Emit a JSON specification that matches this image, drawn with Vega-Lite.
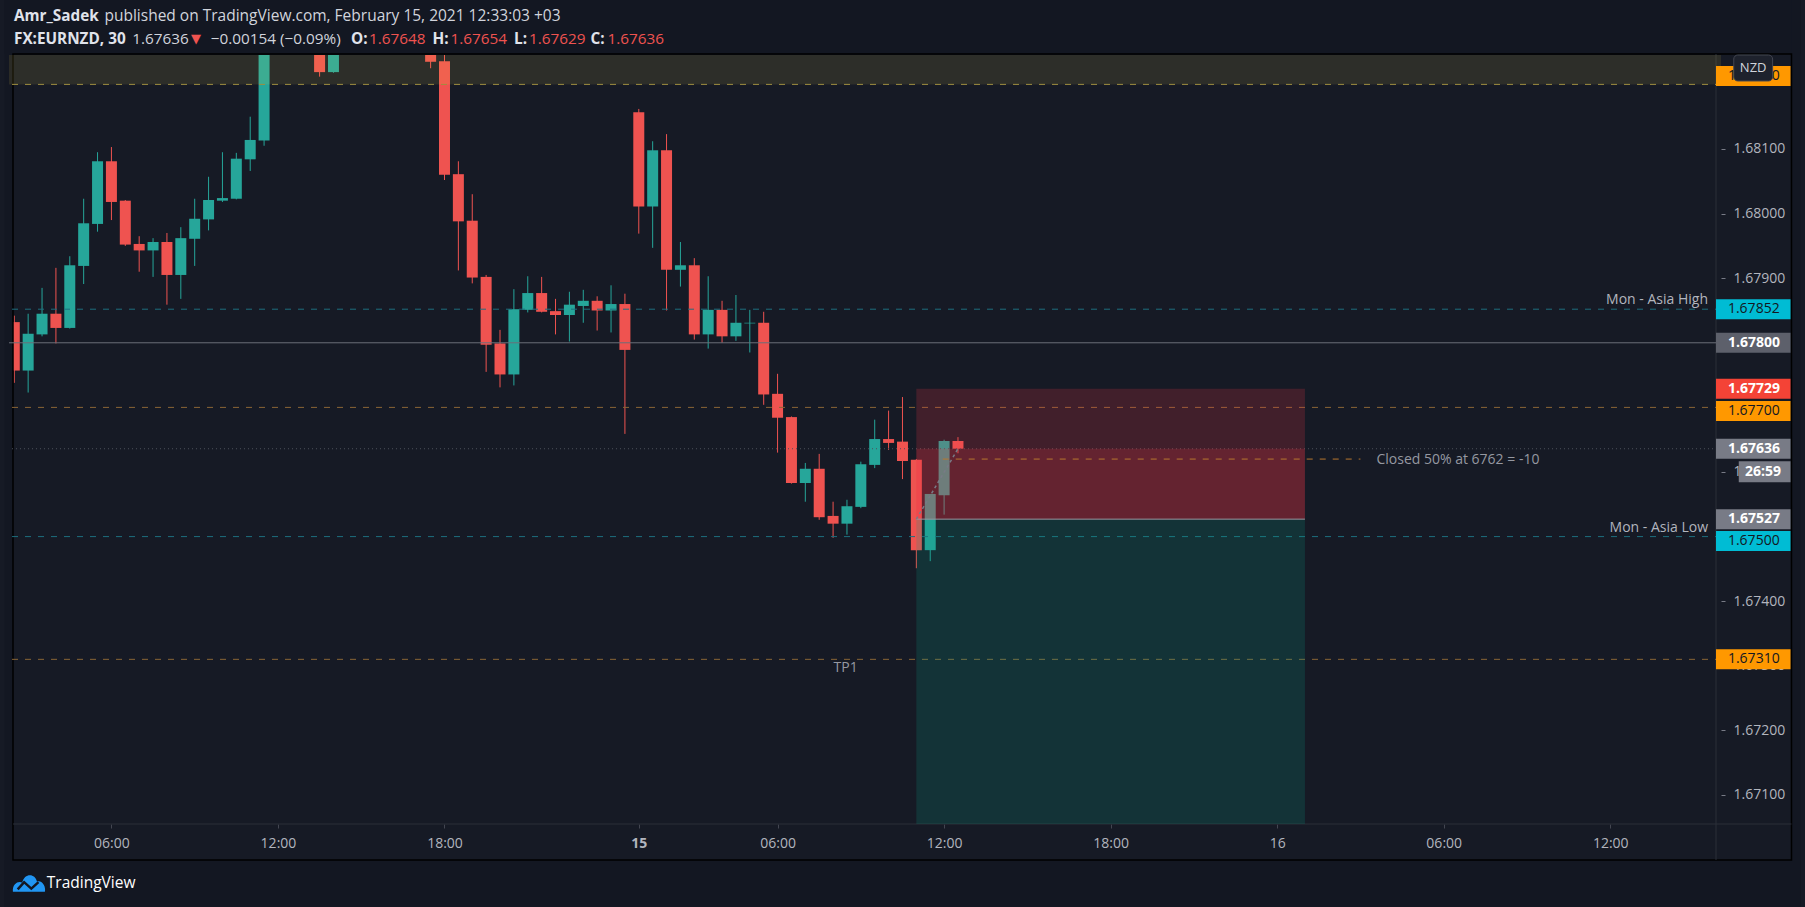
{
  "$schema": "https://vega.github.io/schema/vega-lite/v6.json",
  "width": 1712,
  "height": 769,
  "autosize": {"type": "none"},
  "padding": {"left": 9, "top": 55, "right": 84, "bottom": 83},
  "background": "#161a25",
  "config": {"view": {"stroke": null}, "font": "Open Sans"},
  "resolve": {"axis": {"x": "independent", "y": "independent"}},
  "datasets": {
    "bars": [
      {"i":-7,"O":1.67832,"H":1.67842,"L":1.67738,"C":1.67757},
      {"i":-6,"O":1.67757,"H":1.67845,"L":1.67723,"C":1.67814},
      {"i":-5,"O":1.67813,"H":1.67885,"L":1.67810,"C":1.67845},
      {"i":-4,"O":1.67845,"H":1.67916,"L":1.67799,"C":1.67823},
      {"i":-3,"O":1.67823,"H":1.67934,"L":1.67822,"C":1.67920},
      {"i":-2,"O":1.67919,"H":1.68023,"L":1.67891,"C":1.67985},
      {"i":-1,"O":1.67984,"H":1.68095,"L":1.67972,"C":1.68081},
      {"i":0,"O":1.68081,"H":1.68103,"L":1.67990,"C":1.68018},
      {"i":1,"O":1.68020,"H":1.68021,"L":1.67950,"C":1.67952},
      {"i":2,"O":1.67953,"H":1.67965,"L":1.67910,"C":1.67943},
      {"i":3,"O":1.67943,"H":1.67962,"L":1.67902,"C":1.67956},
      {"i":4,"O":1.67956,"H":1.67970,"L":1.67859,"C":1.67905},
      {"i":5,"O":1.67905,"H":1.67979,"L":1.67868,"C":1.67962},
      {"i":6,"O":1.67961,"H":1.68023,"L":1.67919,"C":1.67992},
      {"i":7,"O":1.67991,"H":1.68057,"L":1.67974,"C":1.68021},
      {"i":8,"O":1.68020,"H":1.68095,"L":1.68018,"C":1.68024},
      {"i":9,"O":1.68023,"H":1.68094,"L":1.68022,"C":1.68085},
      {"i":10,"O":1.68084,"H":1.68150,"L":1.68066,"C":1.68114},
      {"i":11,"O":1.68113,"H":1.68275,"L":1.68105,"C":1.68262},
      {"i":12,"O":1.68262,"H":1.68310,"L":1.68252,"C":1.68290},
      {"i":13,"O":1.68290,"H":1.68340,"L":1.68275,"C":1.68310},
      {"i":14,"O":1.68310,"H":1.68330,"L":1.68260,"C":1.68280},
      {"i":15,"O":1.68280,"H":1.68300,"L":1.68212,"C":1.68219},
      {"i":16,"O":1.68219,"H":1.68290,"L":1.68218,"C":1.68270},
      {"i":17,"O":1.68270,"H":1.68350,"L":1.68255,"C":1.68320},
      {"i":18,"O":1.68320,"H":1.68340,"L":1.68270,"C":1.68290},
      {"i":19,"O":1.68290,"H":1.68310,"L":1.68250,"C":1.68260},
      {"i":20,"O":1.68260,"H":1.68320,"L":1.68252,"C":1.68300},
      {"i":21,"O":1.68300,"H":1.68310,"L":1.68260,"C":1.68270},
      {"i":22,"O":1.68270,"H":1.68290,"L":1.68258,"C":1.68265},
      {"i":23,"O":1.68265,"H":1.68280,"L":1.68225,"C":1.68235},
      {"i":24,"O":1.68236,"H":1.68260,"L":1.68052,"C":1.68060},
      {"i":25,"O":1.68061,"H":1.68081,"L":1.67912,"C":1.67988},
      {"i":26,"O":1.67989,"H":1.68030,"L":1.67892,"C":1.67901},
      {"i":27,"O":1.67902,"H":1.67905,"L":1.67755,"C":1.67797},
      {"i":28,"O":1.67799,"H":1.67820,"L":1.67731,"C":1.67751},
      {"i":29,"O":1.67751,"H":1.67883,"L":1.67734,"C":1.67852},
      {"i":30,"O":1.67851,"H":1.67903,"L":1.67847,"C":1.67877},
      {"i":31,"O":1.67877,"H":1.67902,"L":1.67847,"C":1.67848},
      {"i":32,"O":1.67849,"H":1.67868,"L":1.67813,"C":1.67843},
      {"i":33,"O":1.67843,"H":1.67879,"L":1.67802,"C":1.67859},
      {"i":34,"O":1.67857,"H":1.67882,"L":1.67831,"C":1.67865},
      {"i":35,"O":1.67865,"H":1.67872,"L":1.67819,"C":1.67850},
      {"i":36,"O":1.67850,"H":1.67889,"L":1.67816,"C":1.67860},
      {"i":37,"O":1.67860,"H":1.67876,"L":1.67659,"C":1.67789},
      {"i":38,"O":1.68157,"H":1.68162,"L":1.67969,"C":1.68011},
      {"i":39,"O":1.68011,"H":1.68112,"L":1.67947,"C":1.68098},
      {"i":40,"O":1.68098,"H":1.68123,"L":1.67850,"C":1.67913},
      {"i":41,"O":1.67913,"H":1.67956,"L":1.67887,"C":1.67920},
      {"i":42,"O":1.67920,"H":1.67931,"L":1.67805,"C":1.67813},
      {"i":43,"O":1.67813,"H":1.67903,"L":1.67791,"C":1.67851},
      {"i":44,"O":1.67851,"H":1.67865,"L":1.67800,"C":1.67810},
      {"i":45,"O":1.67810,"H":1.67874,"L":1.67803,"C":1.67831},
      {"i":46,"O":1.67830,"H":1.67851,"L":1.67785,"C":1.67831},
      {"i":47,"O":1.67831,"H":1.67848,"L":1.67704,"C":1.67720},
      {"i":48,"O":1.67721,"H":1.67752,"L":1.67630,"C":1.67684},
      {"i":49,"O":1.67685,"H":1.67686,"L":1.67582,"C":1.67583},
      {"i":50,"O":1.67583,"H":1.67614,"L":1.67554,"C":1.67605},
      {"i":51,"O":1.67605,"H":1.67628,"L":1.67526,"C":1.67530},
      {"i":52,"O":1.67532,"H":1.67554,"L":1.67498,"C":1.67520},
      {"i":53,"O":1.67520,"H":1.67557,"L":1.67503,"C":1.67547},
      {"i":54,"O":1.67546,"H":1.67616,"L":1.67544,"C":1.67612},
      {"i":55,"O":1.67611,"H":1.67681,"L":1.67606,"C":1.67651},
      {"i":56,"O":1.67651,"H":1.67695,"L":1.67634,"C":1.67645},
      {"i":57,"O":1.67647,"H":1.67716,"L":1.67589,"C":1.67617},
      {"i":58,"O":1.67619,"H":1.67620,"L":1.67451,"C":1.67479},
      {"i":59,"O":1.67479,"H":1.67566,"L":1.67462,"C":1.67566},
      {"i":60,"O":1.67564,"H":1.67650,"L":1.67534,"C":1.67648},
      {"i":61,"O":1.67648,"H":1.67654,"L":1.67629,"C":1.67636}
    ],
    "levels": [
      {"price":1.682,"name":"zone"},
      {"price":1.67852,"name":"Mon - Asia High"},
      {"price":1.678,"name":"round"},
      {"price":1.677,"name":"level"},
      {"price":1.67636,"name":"last"},
      {"price":1.675,"name":"Mon - Asia Low"},
      {"price":1.6731,"name":"TP1"}
    ],
    "labels": [
      {"price":1.682,"kind":"orange"},
      {"price":1.67852,"kind":"cyan"},
      {"price":1.678,"kind":"darkgray"},
      {"price":1.67729,"kind":"red"},
      {"price":1.677,"kind":"orange"},
      {"price":1.67636,"kind":"gray"},
      {"price":1.67527,"kind":"gray"},
      {"price":1.675,"kind":"cyan"},
      {"price":1.6731,"kind":"orange"}
    ],
    "position": [
      {"entryI":58,"endI":86,"lastI":61,"entry":1.67527,"stop":1.67729,"last":1.67636,"target":1.6695}
    ],
    "closed": [
      {"i1":59.9,"i2":90,"price":1.6762,"text":"Closed 50% at 6762 = -10"}
    ]
  },
  "layer": [
    {
      "data": {"name": "bars"},
      "mark": {"type": "rule", "clip": true, "strokeWidth": 1},
      "encoding": {
        "x": {
          "field": "i", "type": "quantitative",
          "scale": {"domain": [-7.02, 115.62], "nice": false, "zero": false},
          "axis": {
            "values": [0, 12, 24, 38, 48, 60, 72, 84, 96, 108],
            "labelExpr": "['06:00','12:00','18:00','15','06:00','12:00','18:00','16','06:00','12:00'][indexof([0,12,24,38,48,60,72,84,96,108], datum.value)]",
            "title": null, "domain": false, "grid": false,
            "tickSize": 4, "tickColor": "#434651",
            "labelColor": "#b2b5be", "labelFontSize": 14, "labelFont": "Open Sans",
            "labelPadding": 8, "labelFlush": false, "labelOverlap": false,
            "labelFontWeight": {"condition": {"test": "datum.value == 38", "value": "bold"}, "value": "normal"}
          }
        },
        "y": {
          "field": "L", "type": "quantitative",
          "scale": {"domain": [1.670551, 1.682455], "nice": false, "zero": false},
          "axis": {
            "orient": "right",
            "values": [1.671, 1.672, 1.673, 1.674, 1.676, 1.679, 1.68, 1.681],
            "format": ".5f", "title": null, "domain": false, "grid": false,
            "tickSize": 4, "tickColor": "#787b86",
            "labelColor": "#b2b5be", "labelFontSize": 14, "labelFont": "Open Sans",
            "labelPadding": 8, "labelFlush": false, "labelOverlap": false
          }
        },
        "y2": {"field": "H"},
        "color": {"condition": {"test": "datum.C >= datum.O", "value": "#26a69a"}, "value": "#ef5350"}
      }
    },
    {
      "data": {"name": "bars"},
      "mark": {"type": "bar", "clip": true, "size": 11},
      "encoding": {
        "x": {"field": "i", "type": "quantitative", "axis": null},
        "y": {"field": "O", "type": "quantitative", "axis": null},
        "y2": {"field": "C"},
        "color": {"condition": {"test": "datum.C >= datum.O", "value": "#26a69a"}, "value": "#ef5350"}
      }
    },
    {
      "data": {"values": [{}]},
      "mark": {"type": "rect", "color": "#131722"},
      "encoding": {
        "x": {"datum": -7.7, "type": "quantitative", "axis": null},
        "x2": {"datum": 121.7},
        "y": {"datum": 1.68332, "type": "quantitative", "axis": null},
        "y2": {"datum": 1.682471}
      }
    },
    {
      "data": {"values": [{}]},
      "mark": {"type": "rect", "color": "#131722"},
      "encoding": {
        "x": {"datum": -7.7, "type": "quantitative", "axis": null},
        "x2": {"datum": -7.092},
        "y": {"datum": 1.68332, "type": "quantitative", "axis": null},
        "y2": {"datum": 1.66925}
      }
    },
    {
      "data": {"values": [{}]},
      "mark": {"type": "rect", "color": "#131722"},
      "encoding": {
        "x": {"datum": 121.06, "type": "quantitative", "axis": null},
        "x2": {"datum": 121.7},
        "y": {"datum": 1.68332, "type": "quantitative", "axis": null},
        "y2": {"datum": 1.66925}
      }
    },
    {
      "data": {"values": [{}]},
      "mark": {"type": "rect", "color": "#131722"},
      "encoding": {
        "x": {"datum": -7.7, "type": "quantitative", "axis": null},
        "x2": {"datum": 121.7},
        "y": {"datum": 1.669994, "type": "quantitative", "axis": null},
        "y2": {"datum": 1.66925}
      }
    },
    {
      "data": {"values": [{}]},
      "mark": {"type": "rect", "fillOpacity": 0, "stroke": "#000000", "strokeWidth": 1.5},
      "encoding": {
        "x": {"datum": -7.092, "type": "quantitative", "axis": null},
        "x2": {"datum": 121.06},
        "y": {"datum": 1.682471, "type": "quantitative", "axis": null},
        "y2": {"datum": 1.669994}
      }
    },
    {
      "data": {"values": [{}]},
      "mark": {"type": "rule", "color": "#2a2e39", "strokeWidth": 1},
      "encoding": {
        "x": {"datum": 115.62, "type": "quantitative", "axis": null},
        "y": {"datum": 1.682471, "type": "quantitative", "axis": null},
        "y2": {"datum": 1.669994}
      }
    },
    {
      "data": {"values": [{}]},
      "mark": {"type": "rule", "color": "#2a2e39", "strokeWidth": 1},
      "encoding": {
        "x": {"datum": -7.092, "type": "quantitative", "axis": null},
        "x2": {"datum": 121.06},
        "y": {"datum": 1.670551, "type": "quantitative", "axis": null}
      }
    },
    {
      "data": {"name": "levels"},
      "transform": [{"filter": "datum.name == 'zone'"}],
      "mark": {"type": "rule", "color": "#9a8a3e", "strokeDash": [6, 7], "strokeWidth": 1},
      "encoding": {"y": {"field": "price", "type": "quantitative", "axis": null}}
    },
    {
      "data": {"name": "levels"},
      "transform": [{"filter": "datum.name == 'zone'"}],
      "mark": {"type": "rect", "clip": true, "color": "#ffe14d", "opacity": 0.1},
      "encoding": {
        "x": {"datum": -8, "type": "quantitative", "axis": null},
        "x2": {"datum": 125},
        "y": {"field": "price", "type": "quantitative", "axis": null},
        "y2": {"datum": 1.6835}
      }
    },
    {
      "data": {"name": "levels"},
      "transform": [{"filter": "datum.name == 'Mon - Asia High' || datum.name == 'Mon - Asia Low'"}],
      "mark": {"type": "rule", "color": "#1d6f7e", "strokeDash": [6, 7], "strokeWidth": 1},
      "encoding": {"y": {"field": "price", "type": "quantitative", "axis": null}}
    },
    {
      "data": {"name": "levels"},
      "transform": [{"filter": "datum.name == 'round'"}],
      "mark": {"type": "rule", "color": "#6b6e78", "strokeWidth": 1},
      "encoding": {"y": {"field": "price", "type": "quantitative", "axis": null}}
    },
    {
      "data": {"name": "levels"},
      "transform": [{"filter": "datum.name == 'level' || datum.name == 'TP1'"}],
      "mark": {"type": "rule", "color": "#8a6535", "strokeDash": [6, 7], "strokeWidth": 1},
      "encoding": {"y": {"field": "price", "type": "quantitative", "axis": null}}
    },
    {
      "data": {"name": "levels"},
      "transform": [{"filter": "datum.name == 'last'"}],
      "mark": {"type": "rule", "color": "#4c505b", "strokeDash": [1, 3], "strokeWidth": 1},
      "encoding": {"y": {"field": "price", "type": "quantitative", "axis": null}}
    },
    {
      "data": {"name": "position"},
      "mark": {"type": "rect", "clip": true, "color": "#f23645", "opacity": 0.2},
      "encoding": {
        "x": {"field": "entryI", "type": "quantitative", "axis": null},
        "x2": {"field": "endI"},
        "y": {"field": "stop", "type": "quantitative", "axis": null},
        "y2": {"field": "entry"}
      }
    },
    {
      "data": {"name": "position"},
      "mark": {"type": "rect", "clip": true, "color": "#f23645", "opacity": 0.2},
      "encoding": {
        "x": {"field": "entryI", "type": "quantitative", "axis": null},
        "x2": {"field": "endI"},
        "y": {"field": "last", "type": "quantitative", "axis": null},
        "y2": {"field": "entry"}
      }
    },
    {
      "data": {"name": "position"},
      "mark": {"type": "rect", "clip": true, "color": "#089981", "opacity": 0.2},
      "encoding": {
        "x": {"field": "entryI", "type": "quantitative", "axis": null},
        "x2": {"field": "endI"},
        "y": {"field": "entry", "type": "quantitative", "axis": null},
        "y2": {"field": "target"}
      }
    },
    {
      "data": {"name": "position"},
      "mark": {"type": "rule", "color": "#9598a1", "strokeWidth": 1},
      "encoding": {
        "x": {"field": "entryI", "type": "quantitative", "axis": null},
        "x2": {"field": "endI"},
        "y": {"field": "entry", "type": "quantitative", "axis": null}
      }
    },
    {
      "data": {"name": "position"},
      "mark": {"type": "rule", "color": "#787b86", "strokeWidth": 1.5, "strokeDash": [3, 3]},
      "encoding": {
        "x": {"field": "entryI", "type": "quantitative", "axis": null},
        "x2": {"field": "lastI"},
        "y": {"field": "entry", "type": "quantitative", "axis": null},
        "y2": {"field": "last"}
      }
    },
    {
      "data": {"name": "closed"},
      "mark": {"type": "rule", "color": "#b8782f", "strokeWidth": 1, "strokeDash": [6, 7]},
      "encoding": {
        "x": {"field": "i1", "type": "quantitative", "axis": null},
        "x2": {"field": "i2"},
        "y": {"field": "price", "type": "quantitative", "axis": null}
      }
    },
    {
      "data": {"name": "closed"},
      "mark": {"type": "text", "align": "left", "baseline": "middle", "dx": 16, "dy": 1, "fontSize": 14, "color": "#9598a1"},
      "encoding": {
        "x": {"field": "i2", "type": "quantitative", "axis": null},
        "y": {"field": "price", "type": "quantitative", "axis": null},
        "text": {"field": "text"}
      }
    },
    {
      "data": {"name": "levels"},
      "transform": [{"filter": "datum.name == 'Mon - Asia High' || datum.name == 'Mon - Asia Low'"}],
      "mark": {"type": "text", "align": "right", "baseline": "bottom", "dx": -8, "dy": -2, "fontSize": 14, "color": "#b2b5be"},
      "encoding": {
        "x": {"datum": 115.62, "type": "quantitative", "axis": null},
        "y": {"field": "price", "type": "quantitative", "axis": null},
        "text": {"field": "name"}
      }
    },
    {
      "data": {"name": "levels"},
      "transform": [{"filter": "datum.name == 'TP1'"}],
      "mark": {"type": "text", "align": "center", "baseline": "middle", "dy": 9, "fontSize": 14, "color": "#9598a1"},
      "encoding": {
        "x": {"datum": 52.9, "type": "quantitative", "axis": null},
        "y": {"field": "price", "type": "quantitative", "axis": null},
        "text": {"field": "name"}
      }
    },
    {
      "data": {"name": "labels"},
      "transform": [{"filter": "datum.price != 1.677 && datum.price != 1.675 && datum.price != 1.682"}],
      "mark": {"type": "rect", "yOffset": -10, "y2Offset": 10},
      "encoding": {
        "x": {"datum": 115.62, "type": "quantitative", "axis": null},
        "x2": {"datum": 120.99},
        "y": {"field": "price", "type": "quantitative", "axis": null},
        "y2": {"field": "price"},
        "color": {"field": "kind", "type": "nominal", "legend": null, "scale": {"domain": ["orange", "cyan", "darkgray", "red", "gray"], "range": ["#ff9800", "#00bcd4", "#5d606b", "#f44336", "#787b86"]}}
      }
    },
    {
      "data": {"name": "labels"},
      "transform": [{"filter": "datum.price == 1.682"}],
      "mark": {"type": "rect", "yOffset": -18.4, "y2Offset": 1.6},
      "encoding": {
        "x": {"datum": 115.62, "type": "quantitative", "axis": null},
        "x2": {"datum": 120.99},
        "y": {"field": "price", "type": "quantitative", "axis": null},
        "y2": {"field": "price"},
        "color": {"field": "kind", "type": "nominal", "legend": null}
      }
    },
    {
      "data": {"name": "labels"},
      "transform": [{"filter": "datum.price == 1.677"}],
      "mark": {"type": "rect", "yOffset": -6.4, "y2Offset": 13.6},
      "encoding": {
        "x": {"datum": 115.62, "type": "quantitative", "axis": null},
        "x2": {"datum": 120.99},
        "y": {"field": "price", "type": "quantitative", "axis": null},
        "y2": {"field": "price"},
        "color": {"field": "kind", "type": "nominal", "legend": null}
      }
    },
    {
      "data": {"name": "labels"},
      "transform": [{"filter": "datum.price == 1.675"}],
      "mark": {"type": "rect", "yOffset": -5.6, "y2Offset": 14.4},
      "encoding": {
        "x": {"datum": 115.62, "type": "quantitative", "axis": null},
        "x2": {"datum": 120.99},
        "y": {"field": "price", "type": "quantitative", "axis": null},
        "y2": {"field": "price"},
        "color": {"field": "kind", "type": "nominal", "legend": null}
      }
    },
    {
      "data": {"name": "labels"},
      "transform": [{"filter": "(datum.kind == 'orange' || datum.kind == 'cyan') && datum.price != 1.677 && datum.price != 1.675 && datum.price != 1.682"}],
      "mark": {"type": "text", "align": "left", "baseline": "middle", "fontSize": 14, "color": "#131722"},
      "encoding": {
        "x": {"datum": 116.48, "type": "quantitative", "axis": null},
        "y": {"field": "price", "type": "quantitative", "axis": null},
        "text": {"field": "price", "format": ".5f"}
      }
    },
    {
      "data": {"name": "labels"},
      "transform": [{"filter": "datum.price == 1.682"}],
      "mark": {"type": "text", "align": "left", "baseline": "middle", "dy": -8.4, "fontSize": 14, "color": "#131722"},
      "encoding": {
        "x": {"datum": 116.48, "type": "quantitative", "axis": null},
        "y": {"field": "price", "type": "quantitative", "axis": null},
        "text": {"field": "price", "format": ".5f"}
      }
    },
    {
      "data": {"name": "labels"},
      "transform": [{"filter": "datum.price == 1.677"}],
      "mark": {"type": "text", "align": "left", "baseline": "middle", "dy": 3.6, "fontSize": 14, "color": "#131722"},
      "encoding": {
        "x": {"datum": 116.48, "type": "quantitative", "axis": null},
        "y": {"field": "price", "type": "quantitative", "axis": null},
        "text": {"field": "price", "format": ".5f"}
      }
    },
    {
      "data": {"name": "labels"},
      "transform": [{"filter": "datum.price == 1.675"}],
      "mark": {"type": "text", "align": "left", "baseline": "middle", "dy": 4.4, "fontSize": 14, "color": "#131722"},
      "encoding": {
        "x": {"datum": 116.48, "type": "quantitative", "axis": null},
        "y": {"field": "price", "type": "quantitative", "axis": null},
        "text": {"field": "price", "format": ".5f"}
      }
    },
    {
      "data": {"name": "labels"},
      "transform": [{"filter": "datum.kind == 'gray' || datum.kind == 'darkgray' || datum.kind == 'red'"}],
      "mark": {"type": "text", "align": "left", "baseline": "middle", "fontSize": 14, "fontWeight": "bold", "color": "#ffffff"},
      "encoding": {
        "x": {"datum": 116.48, "type": "quantitative", "axis": null},
        "y": {"field": "price", "type": "quantitative", "axis": null},
        "text": {"field": "price", "format": ".5f"}
      }
    },
    {
      "data": {"values": [{}]},
      "mark": {"type": "rect", "color": "#787b86", "yOffset": 12.5, "y2Offset": 33.5},
      "encoding": {
        "x": {"datum": 117.26, "type": "quantitative", "axis": null},
        "x2": {"datum": 120.99},
        "y": {"datum": 1.67636, "type": "quantitative", "axis": null},
        "y2": {"datum": 1.67636}
      }
    },
    {
      "data": {"values": [{}]},
      "mark": {"type": "text", "text": "26:59", "align": "center", "baseline": "middle", "dy": 23, "fontSize": 14, "fontWeight": "bold", "color": "#ffffff"},
      "encoding": {
        "x": {"datum": 119.0, "type": "quantitative", "axis": null},
        "y": {"datum": 1.67636, "type": "quantitative", "axis": null}
      }
    },
    {
      "data": {"values": [{}]},
      "mark": {"type": "rect", "color": "#1e222d", "stroke": "#434651", "strokeWidth": 1, "cornerRadius": 4},
      "encoding": {
        "x": {"datum": 116.9, "type": "quantitative", "axis": null},
        "x2": {"datum": 119.7},
        "y": {"datum": 1.682455, "type": "quantitative", "axis": null},
        "y2": {"datum": 1.682053}
      }
    },
    {
      "data": {"values": [{}]},
      "mark": {"type": "text", "text": "NZD", "align": "center", "baseline": "middle", "fontSize": 13, "color": "#d1d4dc"},
      "encoding": {
        "x": {"datum": 118.3, "type": "quantitative", "axis": null},
        "y": {"datum": 1.682254, "type": "quantitative", "axis": null}
      }
    },
    {
      "data": {"values": [{}]},
      "mark": {"type": "text", "text": "Amr_Sadek", "align": "left", "baseline": "middle", "fontSize": 15.3, "fontWeight": "bold", "color": "#e0e3eb"},
      "encoding": {"x": {"datum": -7.02, "type": "quantitative", "axis": null}, "y": {"datum": 1.683059, "type": "quantitative", "axis": null}}
    },
    {
      "data": {"values": [{}]},
      "mark": {"type": "text", "text": "published on TradingView.com, February 15, 2021 12:33:03 +03", "align": "left", "baseline": "middle", "fontSize": 15.5, "color": "#d1d4dc"},
      "encoding": {"x": {"datum": -0.501, "type": "quantitative", "axis": null}, "y": {"datum": 1.683059, "type": "quantitative", "axis": null}}
    },
    {
      "data": {"values": [{}]},
      "mark": {"type": "text", "text": "FX:EURNZD, 30", "align": "left", "baseline": "middle", "fontSize": 15.3, "fontWeight": "bold", "color": "#e0e3eb"},
      "encoding": {"x": {"datum": -7.02, "type": "quantitative", "axis": null}, "y": {"datum": 1.682703, "type": "quantitative", "axis": null}}
    },
    {
      "data": {"values": [{}]},
      "mark": {"type": "text", "text": "1.67636", "align": "left", "baseline": "middle", "fontSize": 15.3, "color": "#d1d4dc"},
      "encoding": {"x": {"datum": 1.504, "type": "quantitative", "axis": null}, "y": {"datum": 1.682703, "type": "quantitative", "axis": null}}
    },
    {
      "data": {"values": [{}]},
      "mark": {"type": "text", "text": "▼", "align": "left", "baseline": "middle", "fontSize": 13, "font": "DejaVu Sans", "color": "#ef5350"},
      "encoding": {"x": {"datum": 5.731, "type": "quantitative", "axis": null}, "y": {"datum": 1.682703, "type": "quantitative", "axis": null}}
    },
    {
      "data": {"values": [{}]},
      "mark": {"type": "text", "text": "−0.00154 (−0.09%)", "align": "left", "baseline": "middle", "fontSize": 15.3, "color": "#d1d4dc"},
      "encoding": {"x": {"datum": 7.163, "type": "quantitative", "axis": null}, "y": {"datum": 1.682703, "type": "quantitative", "axis": null}}
    },
    {
      "data": {"values": [{}]},
      "mark": {"type": "text", "text": "O:", "align": "left", "baseline": "middle", "fontSize": 15.3, "fontWeight": "bold", "color": "#e0e3eb"},
      "encoding": {"x": {"datum": 17.264, "type": "quantitative", "axis": null}, "y": {"datum": 1.682703, "type": "quantitative", "axis": null}}
    },
    {
      "data": {"values": [{}]},
      "mark": {"type": "text", "text": "1.67648", "align": "left", "baseline": "middle", "fontSize": 15.3, "color": "#ef5350"},
      "encoding": {"x": {"datum": 18.553, "type": "quantitative", "axis": null}, "y": {"datum": 1.682703, "type": "quantitative", "axis": null}}
    },
    {
      "data": {"values": [{}]},
      "mark": {"type": "text", "text": "H:", "align": "left", "baseline": "middle", "fontSize": 15.3, "fontWeight": "bold", "color": "#e0e3eb"},
      "encoding": {"x": {"datum": 23.138, "type": "quantitative", "axis": null}, "y": {"datum": 1.682703, "type": "quantitative", "axis": null}}
    },
    {
      "data": {"values": [{}]},
      "mark": {"type": "text", "text": "1.67654", "align": "left", "baseline": "middle", "fontSize": 15.3, "color": "#ef5350"},
      "encoding": {"x": {"datum": 24.427, "type": "quantitative", "axis": null}, "y": {"datum": 1.682703, "type": "quantitative", "axis": null}}
    },
    {
      "data": {"values": [{}]},
      "mark": {"type": "text", "text": "L:", "align": "left", "baseline": "middle", "fontSize": 15.3, "fontWeight": "bold", "color": "#e0e3eb"},
      "encoding": {"x": {"datum": 29.011, "type": "quantitative", "axis": null}, "y": {"datum": 1.682703, "type": "quantitative", "axis": null}}
    },
    {
      "data": {"values": [{}]},
      "mark": {"type": "text", "text": "1.67629", "align": "left", "baseline": "middle", "fontSize": 15.3, "color": "#ef5350"},
      "encoding": {"x": {"datum": 30.086, "type": "quantitative", "axis": null}, "y": {"datum": 1.682703, "type": "quantitative", "axis": null}}
    },
    {
      "data": {"values": [{}]},
      "mark": {"type": "text", "text": "C:", "align": "left", "baseline": "middle", "fontSize": 15.3, "fontWeight": "bold", "color": "#e0e3eb"},
      "encoding": {"x": {"datum": 34.527, "type": "quantitative", "axis": null}, "y": {"datum": 1.682703, "type": "quantitative", "axis": null}}
    },
    {
      "data": {"values": [{}]},
      "mark": {"type": "text", "text": "1.67636", "align": "left", "baseline": "middle", "fontSize": 15.3, "color": "#ef5350"},
      "encoding": {"x": {"datum": 35.745, "type": "quantitative", "axis": null}, "y": {"datum": 1.682703, "type": "quantitative", "axis": null}}
    },
    {
      "data": {"values": [{}]},
      "mark": {"type": "point", "shape": "M -1 0.55 C -1.05 0.05 -0.65 -0.15 -0.42 -0.02 C -0.3 -0.62 0.38 -0.64 0.5 -0.1 C 0.85 -0.2 1.08 0.25 1 0.55 Z", "size": 1024, "filled": true, "color": "#2196f3", "opacity": 1},
      "encoding": {"x": {"datum": -5.946, "type": "quantitative", "axis": null}, "y": {"datum": 1.669638, "type": "quantitative", "axis": null}}
    },
    {
      "data": {"values": [{}]},
      "mark": {"type": "point", "shape": "M -0.7 0.4 L -0.3 -0.05 L 0.15 0.35 L 0.6 -0.05", "size": 1024, "filled": false, "color": "#131722", "strokeWidth": 2.5, "opacity": 1},
      "encoding": {"x": {"datum": -5.946, "type": "quantitative", "axis": null}, "y": {"datum": 1.669638, "type": "quantitative", "axis": null}}
    },
    {
      "data": {"values": [{}]},
      "mark": {"type": "text", "text": "TradingView", "align": "left", "baseline": "middle", "fontSize": 15.5, "color": "#ffffff"},
      "encoding": {"x": {"datum": -4.656, "type": "quantitative", "axis": null}, "y": {"datum": 1.669638, "type": "quantitative", "axis": null}}
    }
  ]
}
